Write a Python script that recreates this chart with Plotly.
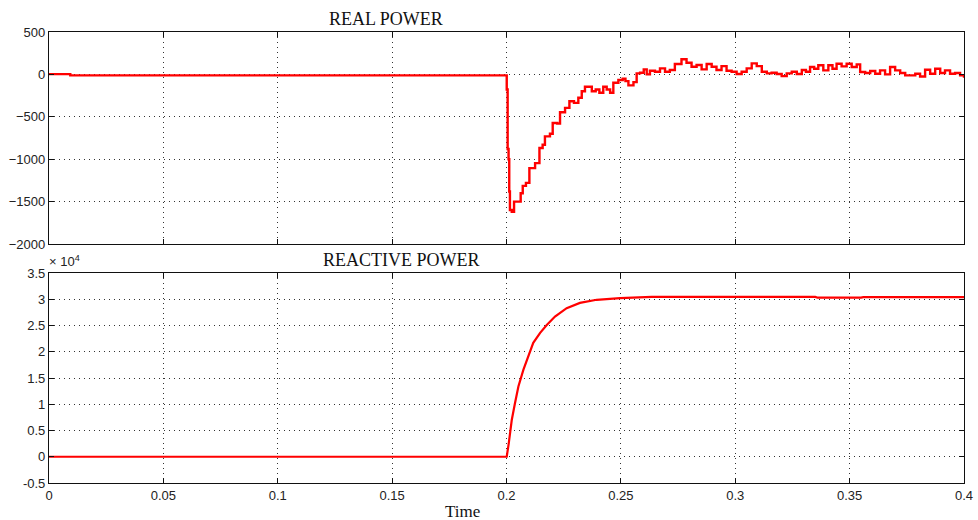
import plotly.graph_objects as go
from plotly.subplots import make_subplots

# Real power (W) vs time (s)
t_real = [0.0, 0.0092, 0.0093, 0.1999, 0.2001, 0.2005, 0.2009, 0.2012, 0.2015, 0.2023,
          0.2033, 0.2052, 0.2062, 0.2071, 0.2085, 0.2100, 0.2125, 0.2144, 0.2158, 0.2168,
          0.2190, 0.2202, 0.2222, 0.2234, 0.2256, 0.2275, 0.2295, 0.2314, 0.2329, 0.2343,
          0.2358, 0.2373, 0.2390, 0.2406, 0.2423, 0.2438, 0.2453, 0.2467, 0.2489, 0.2508,
          0.2520, 0.2533, 0.2555, 0.2569, 0.2584, 0.2600, 0.2613, 0.2627, 0.2649, 0.2671,
          0.2693, 0.2714, 0.2736, 0.2765, 0.2787, 0.2809, 0.2831, 0.2853, 0.2875, 0.2897,
          0.2918, 0.2940, 0.2962, 0.2984, 0.3006, 0.3028, 0.3050, 0.3072, 0.3094, 0.3116,
          0.3138, 0.3159, 0.3181, 0.3203, 0.3225, 0.3247, 0.3269, 0.3291, 0.3309, 0.3327,
          0.3345, 0.3363, 0.3385, 0.3407, 0.3425, 0.3443, 0.3465, 0.3487, 0.3509, 0.3531,
          0.3546, 0.3568, 0.3590, 0.3612, 0.3633, 0.3655, 0.3677, 0.3699, 0.3721, 0.3743,
          0.3765, 0.3787, 0.3808, 0.3830, 0.3852, 0.3874, 0.3896, 0.3917, 0.3939, 0.3961,
          0.3983, 0.4000]
p_real = [3, 3, -12, -12, -178, -880, -1000, -1382, -1600, -1620,
          -1500, -1500, -1402, -1315, -1280, -1106, -1047, -869, -830, -731,
          -700, -573, -581, -446, -395, -316, -336, -276, -198, -146,
          -146, -198, -178, -217, -146, -178, -217, -99, -67, -51,
          -79, -130, -91, 12, 19, 59, 0, 43, 31, 71,
          31, 51, 122, 178, 138, 90, 110, 59, 122, 90,
          51, 98, 43, 31, 4, 31, 71, 130, 98, 31,
          12, 19, 4, -20, 12, 31, 4, 51, 31, 87,
          67, 107, 47, 107, 67, 126, 95, 126, 87, 118,
          28, 16, 40, 8, 47, 0, 87, 47, 16, -12,
          -12, 8, -24, 55, 8, 67, 16, 47, 8, 16,
          -12, -40]

# Reactive power (var) vs time (s)
t_reac = [0.0, 0.2001, 0.2010, 0.2023, 0.2037, 0.2052, 0.2074, 0.2096, 0.2117, 0.2147,
          0.2176, 0.2212, 0.2263, 0.2321, 0.2394, 0.2496, 0.2635, 0.3350, 0.3360, 0.3550,
          0.3560, 0.4000]
q_reac = [0, 0, 2600, 7000, 10200, 13400, 16600, 19100, 21700, 23600,
          25100, 26700, 28300, 29300, 29900, 30200, 30450, 30450, 30300, 30300,
          30400, 30400]

x_ticks = [0, 0.05, 0.1, 0.15, 0.2, 0.25, 0.3, 0.35, 0.4]
x_labels = ["0", "0.05", "0.1", "0.15", "0.2", "0.25", "0.3", "0.35", "0.4"]
real_ticks = [500, 0, -500, -1000, -1500, -2000]
reac_ticks = [35000, 30000, 25000, 20000, 15000, 10000, 5000, 0, -5000]
reac_labels = ["3.5", "3", "2.5", "2", "1.5", "1", "0.5", "0", "-0.5"]

fig = make_subplots(rows=2, cols=1, vertical_spacing=0.0644)
fig.update_layout(
    xaxis=dict(domain=[0, 1]), xaxis2=dict(domain=[0, 1]),
    yaxis=dict(domain=[0.530, 1.0]), yaxis2=dict(domain=[0.0, 0.4656]),
)

fig.add_trace(go.Scatter(x=t_real, y=p_real, mode="lines",
                         line=dict(color="#ff0000", width=2.4, shape="hv")), row=1, col=1)
fig.add_trace(go.Scatter(x=t_reac, y=q_reac, mode="lines",
                         line=dict(color="#ff0000", width=2.2)), row=2, col=1)

tick_font = dict(family="Liberation Sans, Arial, sans-serif", size=13, color="#222222")
axis_common = dict(showline=True, linecolor="#111111", linewidth=1.2, mirror="ticks",
                   ticks="inside", ticklen=5, tickcolor="#111111", showgrid=True,
                   gridcolor="#333333", griddash="1px,4px", gridwidth=1, zeroline=False,
                   tickfont=tick_font, automargin=False)

fig.update_xaxes(range=[0, 0.4], tickvals=x_ticks, ticktext=x_labels, **axis_common)
fig.update_xaxes(showticklabels=False, row=1, col=1)
fig.update_yaxes(range=[-2000, 500], tickvals=real_ticks, row=1, col=1, **axis_common)
fig.update_yaxes(range=[-5000, 35000], tickvals=reac_ticks, ticktext=reac_labels,
                 row=2, col=1, **axis_common)

L, R, T, B = 49, 14, 32, 37
W, H = 978, 520
title_font = dict(family="Liberation Serif, Times New Roman, serif", size=18, color="#111111")
labels = [
    ("REAL POWER", 386, 19, title_font),
    ("REACTIVE POWER", 401, 260, title_font),
    ("Time", 462, 512, dict(family="Liberation Serif, Times New Roman, serif", size=17, color="#111111")),
    ("× 10<sup>4</sup>", 64, 261, dict(family="Liberation Sans, Arial, sans-serif", size=13, color="#222222")),
]
plot_w = W - L - R
plot_h = H - T - B
annotations = []
for text, px, py, font in labels:
    annotations.append(dict(text=text, xref="paper", yref="paper",
                            x=(px - L) / plot_w, y=(H - B - py) / plot_h,
                            xanchor="center", yanchor="middle",
                            showarrow=False, font=font))

fig.update_layout(
    width=W, height=H,
    margin=dict(l=L, r=R, t=T, b=B),
    paper_bgcolor="white", plot_bgcolor="white",
    showlegend=False,
    annotations=annotations,
)

fig.write_html("out.html")
